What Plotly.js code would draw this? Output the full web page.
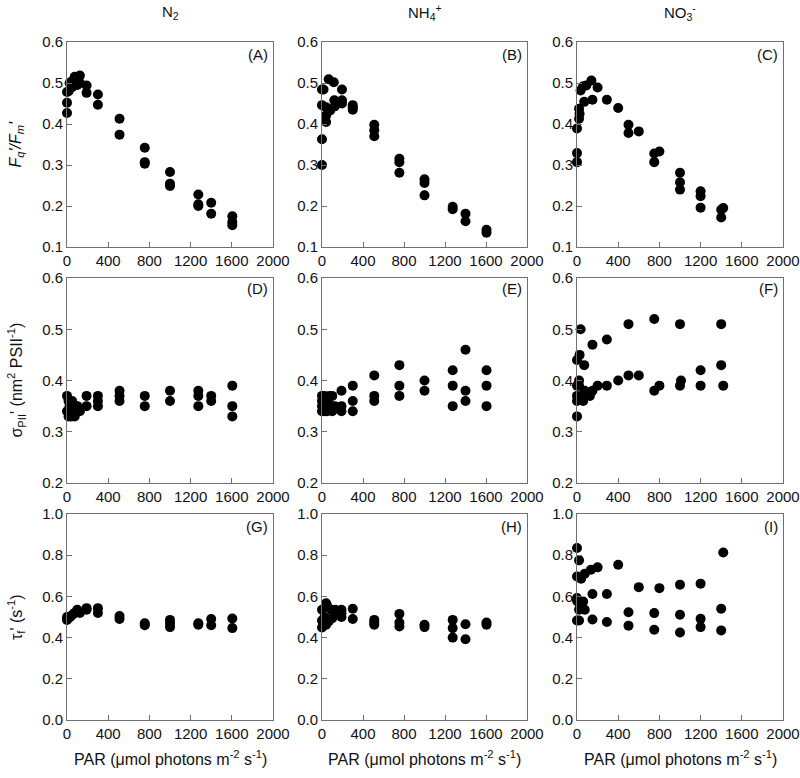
<!DOCTYPE html>
<html>
<head>
<meta charset="utf-8">
<script src="https://cdn.plot.ly/plotly-3.0.1.min.js"></script>
<style>html,body{margin:0;padding:0;background:#fff;}#chart{width:800px;height:778px;}</style>
</head>
<body>
<div id="chart"></div>
<script>
// ---- data (PAR, µmol photons m-2 s-1) ----
const columnTitles = ['N<sub>2</sub>', 'NH<sub>4</sub><sup>+</sup>', 'NO<sub>3</sub><sup>-</sup>'];
const panelLabels = ['(A)','(B)','(C)','(D)','(E)','(F)','(G)','(H)','(I)'];
const xTickVals = [0, 400, 800, 1200, 1600, 2000];

// Fq'/Fm'
const parA = [0,0,0,15,25,50,50,75,75,100,100,125,125,190,190,300,300,510,510,755,755,755,1000,1000,1000,1275,1275,1275,1400,1400,1605,1605,1605];
const fqfmA = [0.427,0.452,0.478,0.48,0.50,0.505,0.49,0.515,0.50,0.51,0.495,0.518,0.50,0.494,0.476,0.472,0.447,0.413,0.374,0.342,0.307,0.303,0.283,0.254,0.249,0.228,0.204,0.2,0.208,0.181,0.175,0.161,0.153];
const parB = [0,0,0,0,15,40,40,40,65,80,115,120,125,195,195,195,300,300,300,510,510,510,755,755,755,1000,1000,1000,1275,1275,1400,1400,1605,1605];
const fqfmB = [0.30,0.363,0.446,0.484,0.484,0.441,0.421,0.405,0.509,0.433,0.502,0.458,0.443,0.484,0.458,0.45,0.446,0.44,0.435,0.398,0.385,0.37,0.315,0.307,0.281,0.265,0.256,0.226,0.198,0.192,0.181,0.163,0.142,0.135];
const parC = [0,0,0,20,20,25,35,60,70,90,140,150,200,290,400,500,500,600,750,750,800,1000,1000,1000,1200,1200,1200,1400,1420,1400];
const fqfmC = [0.307,0.329,0.389,0.413,0.437,0.425,0.482,0.492,0.454,0.494,0.506,0.459,0.489,0.459,0.439,0.398,0.378,0.382,0.328,0.307,0.333,0.281,0.258,0.24,0.236,0.224,0.196,0.191,0.195,0.172];

// sigma PII'
const parD = [0,0,15,15,25,40,50,60,75,90,100,125,190,190,300,300,300,510,510,510,755,755,1000,1000,1275,1275,1275,1400,1400,1605,1605,1605];
const sigmaD = [0.37,0.34,0.36,0.33,0.35,0.33,0.36,0.34,0.33,0.35,0.35,0.34,0.37,0.35,0.37,0.36,0.35,0.38,0.37,0.36,0.37,0.35,0.38,0.36,0.38,0.37,0.35,0.37,0.36,0.39,0.35,0.33];
const parE = [0,0,0,0,25,25,25,50,50,75,100,100,100,125,190,190,190,300,300,300,510,510,510,755,755,755,1000,1000,1275,1275,1275,1400,1400,1400,1605,1605,1605];
const sigmaE = [0.37,0.36,0.35,0.34,0.37,0.35,0.34,0.36,0.34,0.37,0.37,0.35,0.34,0.35,0.38,0.35,0.34,0.39,0.36,0.34,0.41,0.37,0.36,0.43,0.39,0.37,0.40,0.38,0.42,0.39,0.35,0.46,0.38,0.36,0.42,0.39,0.35];
const parF = [0,25,35,70,150,290,500,750,1000,1400,0,0,0,0,20,20,40,60,75,125,150,200,290,400,500,600,750,800,1000,1010,1200,1200,1400,1420];
const sigmaF = [0.44,0.45,0.50,0.43,0.47,0.48,0.51,0.52,0.51,0.51,0.33,0.37,0.36,0.39,0.40,0.39,0.37,0.36,0.38,0.37,0.38,0.39,0.39,0.40,0.41,0.41,0.38,0.39,0.39,0.40,0.42,0.39,0.43,0.39];

// tau f'
const parG = [0,0,15,30,50,75,100,125,190,190,300,300,510,510,755,755,1000,1000,1000,1275,1275,1400,1400,1605,1605];
const tauG = [0.486,0.50,0.494,0.50,0.51,0.52,0.535,0.52,0.535,0.543,0.543,0.52,0.505,0.49,0.47,0.46,0.486,0.47,0.451,0.47,0.462,0.49,0.46,0.493,0.446];
const parH = [0,0,0,25,40,50,40,65,90,100,130,140,190,190,190,300,300,510,510,510,755,755,755,1000,1000,1275,1275,1275,1400,1400,1605,1605];
const tauH = [0.535,0.483,0.449,0.50,0.567,0.554,0.462,0.478,0.535,0.494,0.535,0.52,0.535,0.52,0.50,0.54,0.49,0.486,0.473,0.462,0.515,0.473,0.454,0.462,0.451,0.486,0.446,0.40,0.465,0.392,0.473,0.462];
const parI = [0,20,0,40,75,135,200,400,600,800,1000,1200,1420,0,0,20,60,150,290,500,750,1000,1200,1400,20,75,0,20,150,290,500,750,1000,1200,1400];
const tauI = [0.835,0.775,0.697,0.686,0.71,0.729,0.741,0.754,0.645,0.64,0.657,0.662,0.813,0.592,0.579,0.567,0.575,0.612,0.612,0.523,0.519,0.511,0.491,0.54,0.535,0.535,0.483,0.483,0.488,0.476,0.458,0.438,0.425,0.451,0.435];

const rowTitles = [
  "<i>F<sub>q</sub>'/F<sub>m</sub>'</i>",
  "σ<sub>PII</sub>' (nm<sup>2</sup> PSII<sup>-1</sup>)",
  "τ<sub>f</sub>' (s<sup>-1</sup>)"
];
const xTitle = 'PAR (μmol photons m<sup>-2</sup> s<sup>-1</sup>)';

// ---- layout geometry (pixels) ----
const W = 800, H = 778;
const colPx = [[67, 273], [322, 527], [577, 783]];
const rowPx = [[42, 247], [278, 483], [514, 720]];
const yRanges = [[0.1, 0.6], [0.2, 0.6], [0, 1.0]];
const yDticks = [0.1, 0.1, 0.2];
const labelOffset = [12, 10, 12];

const xs = [parA, parB, parC, parD, parE, parF, parG, parH, parI];
const ys = [fqfmA, fqfmB, fqfmC, sigmaD, sigmaE, sigmaF, tauG, tauH, tauI];

const FONT = '"Liberation Sans", Arial, sans-serif';
const LINE = '#707070';
const TXT = '#111';

const traces = [];
const layout = {
  width: W, height: H,
  margin: {l: 0, r: 0, t: 0, b: 0},
  paper_bgcolor: '#fff', plot_bgcolor: '#fff',
  showlegend: false,
  font: {family: FONT, size: 15, color: TXT},
  annotations: []
};

for (let r = 0; r < 3; r++) {
  for (let c = 0; c < 3; c++) {
    const i = r * 3 + c;
    const sfx = i === 0 ? '' : String(i + 1);
    traces.push({
      type: 'scatter', mode: 'markers',
      x: xs[i], y: ys[i],
      xaxis: 'x' + sfx, yaxis: 'y' + sfx,
      marker: {size: 10, color: '#000'},
      cliponaxis: false, hoverinfo: 'skip'
    });
    layout['xaxis' + sfx] = {
      domain: [colPx[c][0] / W, colPx[c][1] / W],
      anchor: 'y' + sfx,
      range: [0, 2000], tickvals: xTickVals,
      showgrid: false, zeroline: false,
      showline: true, mirror: true, linecolor: LINE, linewidth: 1,
      ticks: 'inside', ticklen: 5, tickcolor: LINE,
      tickfont: {family: FONT, size: 15, color: TXT}
    };
    layout['yaxis' + sfx] = {
      domain: [1 - rowPx[r][1] / H, 1 - rowPx[r][0] / H],
      anchor: 'x' + sfx,
      range: yRanges[r], dtick: yDticks[r], tick0: 0, tickformat: '.1f',
      showgrid: false, zeroline: false,
      showline: true, mirror: true, linecolor: LINE, linewidth: 1,
      ticks: 'inside', ticklen: 5, tickcolor: LINE,
      tickfont: {family: FONT, size: 15, color: TXT}
    };
    layout.annotations.push({
      text: panelLabels[i], xref: 'paper', yref: 'paper',
      x: (colPx[c][1] - 3) / W, y: 1 - (rowPx[r][0] + labelOffset[r]) / H,
      xanchor: 'right', yanchor: 'middle', showarrow: false,
      font: {family: FONT, size: 15, color: TXT}
    });
  }
  layout.annotations.push({
    text: rowTitles[r], xref: 'paper', yref: 'paper',
    x: 16 / W, y: 1 - (rowPx[r][0] + rowPx[r][1]) / 2 / H,
    xanchor: 'center', yanchor: 'middle', textangle: -90, showarrow: false,
    font: {family: FONT, size: 16, color: TXT}
  });
}
for (let c = 0; c < 3; c++) {
  const cx = (colPx[c][0] + colPx[c][1]) / 2 / W;
  layout.annotations.push({
    text: columnTitles[c], xref: 'paper', yref: 'paper',
    x: cx, y: 1 - 13 / H, xanchor: 'center', yanchor: 'middle', showarrow: false,
    font: {family: FONT, size: 15, color: TXT}
  });
  layout.annotations.push({
    text: xTitle, xref: 'paper', yref: 'paper',
    x: cx, y: 1 - 758 / H, xanchor: 'center', yanchor: 'middle', showarrow: false,
    font: {family: FONT, size: 16, color: TXT}
  });
}

Plotly.newPlot('chart', traces, layout, {staticPlot: true, displayModeBar: false});
</script>
</body>
</html>
